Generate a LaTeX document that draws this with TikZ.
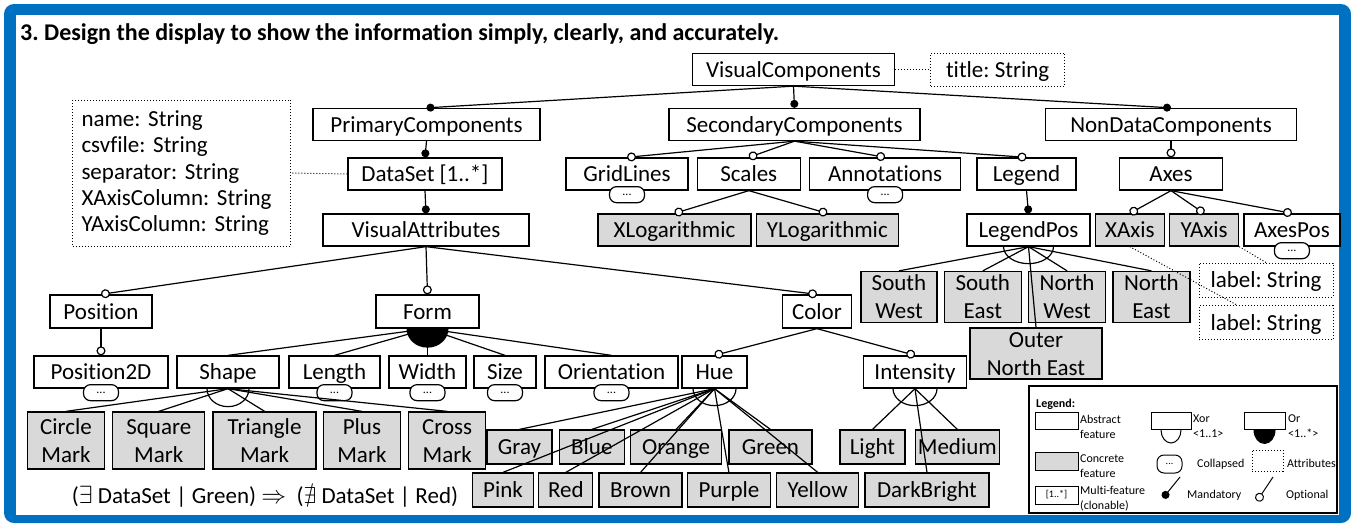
\documentclass[tikz,border=0pt]{standalone}
\usepackage{fontspec}
\setmainfont{Carlito}[Ligatures=NoCommon]
\usepackage{amssymb}
\usetikzlibrary{
  arrows.meta, % for the Circle tips of mandatory and optional features
  positioning, % for relative placement of sibling features
}
\definecolor{frameblue}{RGB}{0,112,192}
\definecolor{concretegray}{RGB}{217,217,217}
\tikzset{
  feature/.style={ % abstract feature
    rectangle,draw,line width=1.3pt,fill=white,
    inner sep=0pt,
    minimum height=32pt,
    text height=15pt,text depth=0pt, % same baseline in every box
  },
  concrete/.style={ % concrete feature
    feature,fill=concretegray,
  },
  twoline/.style={ % concrete feature with a two line name
    concrete,align=center,minimum height=56pt,
    text height=43pt,text depth=0pt,
  },
  attrs/.style={ % attribute box
    rectangle,draw,dotted,line width=1pt,fill=white,
    inner sep=0pt,minimum height=33pt,
    text height=15pt,text depth=0pt,
  },
  collapsed/.style={ % collapsed subtree marker
    rectangle,draw,line width=1.2pt,fill=white,rounded corners=7pt,
    minimum width=35pt,minimum height=16pt,inner sep=0pt,
    font=\fontsize{12}{12}\selectfont,
  },
  mand/.style={ % mandatory child
    -{Circle[length=8pt]},line width=1.2pt,
  },
  opt/.style={ % optional child
    -{Circle[length=9pt,fill=white]},line width=1.2pt,
  },
  grp/.style={line width=1.2pt}, % child of an or / xor group
  xorarc/.style={draw,line width=1.2pt},
  attrline/.style={dotted,line width=1pt},
  lbox/.style={ % small boxes of the legend
    rectangle,draw,line width=1pt,fill=white,
    inner sep=0pt,minimum width=43pt,minimum height=17pt,
  },
  ltext/.style={ % texts of the legend
    anchor=west,align=left,inner sep=0pt,
    font=\fontsize{12}{15}\selectfont,
  },
}

\begin{document}
\frenchspacing
\begin{tikzpicture}[x=1pt,y=-1pt,font=\fontsize{23}{28}\selectfont]

	\useasboundingbox (0,0) rectangle (1351,523);
	\fill[frameblue,rounded corners=10pt] (4,4) rectangle (1351,523);
	\fill[white] (16,15) rectangle (1339,515);

	\node[anchor=base west,inner sep=0pt,font=\fontsize{24}{28}\selectfont\bfseries] (heading) at (20,40)
		{3. Design the display to show the information simply, clearly, and accurately.};

	% top levels
	\node[feature,minimum width=202pt] (vc) at (793.5,69.5) {VisualComponents};
	\node[attrs,minimum width=134pt,right=35pt of vc] (vctitle) {title: String};

	\node[feature,minimum width=227pt] (pc) at (426.5,124.5) {PrimaryComponents};
	\node[feature,minimum width=251pt] (sc) at (794.5,124.5) {SecondaryComponents};
	\node[feature,minimum width=251pt] (ndc) at (1171,124.5) {NonDataComponents};

	\node[attrs,align=left,text width=200pt,inner xsep=9pt,minimum height=146pt,
		font=\fontsize{23}{26.3}\selectfont,text height=12pt,text depth=105pt] (dsattr) at (181.5,173)
		{name: String\\csvfile: String\\separator: String\\XAxisColumn: String\\YAxisColumn: String};

	\node[feature,minimum width=154pt] (ds) at (425,174) {DataSet [1..*]};
	\node[feature,minimum width=122pt] (grid) at (627,174) {GridLines};
	\node[feature,minimum width=103pt,right=8pt of grid] (scales) {Scales};
	\node[feature,minimum width=151pt,right=8pt of scales] (annot) {Annotations};
	\node[feature,minimum width=99pt] (legend) at (1026.5,174) {Legend};
	\node[feature,minimum width=103pt] (axes) at (1171,174) {Axes};

	\node[feature,minimum width=206pt] (va) at (426,230) {VisualAttributes};
	\node[concrete,minimum width=153pt] (xlog) at (674.5,230) {XLogarithmic};
	\node[concrete,minimum width=142pt,right=4pt of xlog] (ylog) {YLogarithmic};
	\node[feature,minimum width=123pt] (legpos) at (1028.5,230) {LegendPos};
	\node[concrete,minimum width=69pt,right=4pt of legpos] (xaxis) {XAxis};
	\node[concrete,minimum width=69pt,right=4pt of xaxis] (yaxis) {YAxis};
	\node[feature,minimum width=96pt,right=4pt of yaxis] (axespos) {AxesPos};

	% legend positions and axis labels
	\node[twoline,minimum width=76pt,minimum height=51pt] (sw) at (899,297) {South\\West};
	\node[twoline,minimum width=77pt,minimum height=51pt,right=6pt of sw] (se) {South\\East};
	\node[twoline,minimum width=77pt,minimum height=51pt,right=6pt of se] (nw) {North\\West};
	\node[twoline,minimum width=77pt,minimum height=51pt,right=6pt of nw] (ne) {North\\East};
	\node[twoline,minimum width=132pt,minimum height=51pt] (oneast) at (1036,353.5) {Outer\\North East};
	\node[attrs,minimum width=134pt,minimum height=34pt] (lab1) at (1266,280) {label: String};
	\node[attrs,minimum width=134pt,minimum height=34pt] (lab2) at (1266,322.5) {label: String};

	% visual attributes
	\node[feature,minimum width=102pt,minimum height=33pt] (pos) at (101,311.5) {Position};
	\node[feature,minimum width=103pt,minimum height=33pt] (form) at (427.5,311.5) {Form};
	\node[feature,minimum width=69pt,minimum height=33pt] (color) at (817,311.5) {Color};

	\node[feature,minimum width=134pt] (pos2d) at (101,372) {Position2D};
	\node[feature,minimum width=102pt] (shape) at (228,372) {Shape};
	\node[feature,minimum width=91pt] (length) at (334.5,372) {Length};
	\node[feature,minimum width=77pt] (width) at (427.5,372) {Width};
	\node[feature,minimum width=62pt] (size) at (505,372) {Size};
	\node[feature,minimum width=133pt] (orient) at (611.5,372) {Orientation};
	\node[feature,minimum width=65pt] (hue) at (714.5,372) {Hue};
	\node[feature,minimum width=103pt] (intens) at (915,372) {Intensity};

	\node[twoline,minimum width=77pt,minimum height=57pt] (circmark) at (66,440.5) {Circle\\Mark};
	\node[twoline,minimum width=92pt,minimum height=57pt,right=7pt of circmark] (sqmark) {Square\\Mark};
	\node[twoline,minimum width=103pt,minimum height=57pt,right=7pt of sqmark] (trimark) {Triangle\\Mark};
	\node[twoline,minimum width=77pt,minimum height=57pt,right=6pt of trimark] (plusmark) {Plus\\Mark};
	\node[twoline,minimum width=77pt,minimum height=57pt,right=7pt of plusmark] (crossmark) {Cross\\Mark};

	\node[concrete,minimum width=65pt,minimum height=34pt] (cgray) at (519.5,447) {Gray};
	\node[concrete,minimum width=65pt,minimum height=34pt,right=6pt of cgray] (cblue) {Blue};
	\node[concrete,minimum width=91pt,minimum height=34pt,right=5pt of cblue] (corange) {Orange};
	\node[concrete,minimum width=83pt,minimum height=34pt,right=6pt of corange] (cgreen) {Green};
	\node[concrete,minimum width=65pt,minimum height=34pt] (light) at (872.5,447) {Light};
	\node[concrete,minimum width=84pt,minimum height=34pt,right=9pt of light] (medium) {Medium};

	\node[concrete,minimum width=61pt,minimum height=34pt] (cpink) at (503,490) {Pink};
	\node[concrete,minimum width=54pt,minimum height=34pt,right=4pt of cpink] (cred) {Red};
	\node[concrete,minimum width=83pt,minimum height=34pt,right=5pt of cred] (cbrown) {Brown};
	\node[concrete,minimum width=83pt,minimum height=34pt,right=4pt of cbrown] (cpurple) {Purple};
	\node[concrete,minimum width=82pt,minimum height=34pt,right=5pt of cpurple] (cyellow) {Yellow};
	\node[concrete,minimum width=124pt,minimum height=34pt,right=5pt of cyellow] (dark) {DarkBright};

	\node[inner sep=0pt] (constraint) at (265,497)
		{($\exists$ DataSet | Green) $\Rightarrow$\ \ ($\nexists$ DataSet | Red)};

	% collapsed subtrees
	\node[collapsed] (gridmore) at ([yshift=-4pt]grid.south) {...};
	\node[collapsed] (annotmore) at ([yshift=-4pt]annot.south) {...};
	\node[collapsed] (axespmore) at ([yshift=-4pt]axespos.south) {...};
	\node[collapsed] (pos2dmore) at ([yshift=-4pt]pos2d.south) {...};
	\node[collapsed] (lengthmore) at ([yshift=-4pt]length.south) {...};
	\node[collapsed] (widthmore) at ([yshift=-4pt]width.south) {...};
	\node[collapsed] (sizemore) at ([yshift=-4pt]size.south) {...};
	\node[collapsed] (orientmore) at ([yshift=-4pt]orient.south) {...};

	% attributes
	\draw[attrline] (vc.east) -- (vctitle.west);
	\draw[attrline] (ds.west) -- (dsattr.east);
	\draw[attrline] (xaxis.south) -- (lab2.149);
	\draw[attrline] (yaxis.south east) -- (lab1.north);

	% feature tree
	\draw[mand] (vc.south) -- (pc.north);
	\draw[mand] (vc.south) -- (sc.north);
	\draw[mand] (vc.south) -- (ndc.north);
	\draw[mand] (pc.south) -- (ds.north);
	\draw[mand] (ds.south) -- (va.north);

	\draw[opt] (sc.south) -- (grid.north);
	\draw[opt] (sc.south) -- (scales.north);
	\draw[opt] (sc.south) -- (annot.north);
	\draw[opt] (sc.south) -- (legend.north);
	\draw[opt] (ndc.south) -- (axes.north);

	\draw[opt] (scales.south) -- (xlog.north);
	\draw[opt] (scales.south) -- (ylog.north);
	\draw[mand] (legend.south) -- (legpos.north);
	\draw[opt] (axes.south) -- (xaxis.north);
	\draw[opt] (axes.south) -- (yaxis.north);
	\draw[opt] (axes.south) -- (axespos.north);

	\draw[grp] (legpos.south) -- (sw.north);
	\draw[grp] (legpos.south) -- (se.north);
	\draw[grp] (legpos.south) -- (nw.north);
	\draw[grp] (legpos.south) -- (ne.north);
	\draw[grp] (legpos.south) -- (oneast.north);
	\draw[xorarc] (legpos.south) ++(-25pt,0) arc[start angle=180,end angle=360,x radius=25pt,y radius=17pt];

	\draw[opt] (va.south) -- (pos.north);
	\draw[opt] (va.south) -- (form.north);
	\draw[opt] (va.south) -- (color.north);
	\draw[opt] (pos.south) -- (pos2d.north);
	\draw[opt] (color.south) -- (hue.north);
	\draw[opt] (color.south) -- (intens.north);

	\draw[grp] (form.south) -- (shape.north);
	\draw[grp] (form.south) -- (length.north);
	\draw[grp] (form.south) -- (width.north);
	\draw[grp] (form.south) -- (size.north);
	\draw[grp] (form.south) -- (orient.north);
	\fill (form.south) ++(-21pt,0) arc[start angle=180,end angle=360,x radius=21pt,y radius=19pt] -- cycle;

	\draw[grp] (shape.south) -- (circmark.north);
	\draw[grp] (shape.south) -- (sqmark.north);
	\draw[grp] (shape.south) -- (trimark.north);
	\draw[grp] (shape.south) -- (plusmark.north);
	\draw[grp] (shape.south) -- (crossmark.north);
	\draw[xorarc] (shape.south) ++(-21pt,0) arc[start angle=180,end angle=360,x radius=21pt,y radius=18pt];

	\draw[grp] (hue.south) -- (cgray.north);
	\draw[grp] (hue.south) -- (cblue.north);
	\draw[grp] (hue.south) -- (corange.north);
	\draw[grp] (hue.south) -- (cgreen.north);
	\draw[grp] (hue.south) -- (cpink.north);
	\draw[grp] (hue.south) -- (cred.north);
	\draw[grp] (hue.south) -- (cbrown.north);
	\draw[grp] (hue.south) -- (cpurple.north);
	\draw[grp] (hue.south) -- (cyellow.north);
	\draw[xorarc] (hue.south) ++(-21.5pt,0) arc[start angle=180,end angle=360,x radius=21.5pt,y radius=17pt];

	\draw[grp] (intens.south) -- (light.north);
	\draw[grp] (intens.south) -- (medium.north);
	\draw[grp] (intens.south) -- (dark.north);
	\draw[xorarc] (intens.south) ++(-22pt,0) arc[start angle=180,end angle=360,x radius=22pt,y radius=17pt];

	% legend
	\node[draw,line width=1.2pt,fill=white,inner sep=0pt,minimum width=308pt,minimum height=127pt] (legendbox) at (1183,449.5) {};
	\node[ltext,font=\fontsize{12}{15}\selectfont\bfseries] (legtitle) at (1036,404) {Legend:};

	\node[lbox] (labs) at (1056.5,421) {};
	\node[ltext] (labstext) at (1080,426.5) {Abstract\\feature};
	\node[lbox,minimum width=40pt] (lxor) at (1171,421) {};
	\draw[line width=1pt] (lxor.south) ++(-10pt,0) arc[start angle=180,end angle=360,x radius=10pt,y radius=13pt];
	\node[ltext] (lxortext) at (1193,426.5) {Xor\\<1..1>};
	\node[lbox,minimum width=41pt] (lor) at (1264.5,421) {};
	\fill (lor.south) ++(-11pt,0) arc[start angle=180,end angle=360,x radius=11pt,y radius=14pt] -- cycle;
	\node[ltext] (lortext) at (1288,426.5) {Or\\<1..*>};

	\node[lbox,fill=concretegray,minimum height=18pt] (lconc) at (1056.5,461) {};
	\node[ltext] (lconctext) at (1080,466) {Concrete\\feature};
	\node[collapsed,line width=1pt,minimum width=25pt,minimum height=18pt,font=\fontsize{10}{10}\selectfont] (lcoll) at (1169.5,464) {...};
	\node[ltext] (lcolltext) at (1197,464) {Collapsed};
	\node[lbox,dotted,minimum width=31pt,minimum height=21pt] (lattr) at (1267.5,460.5) {};
	\node[ltext] (lattrtext) at (1287,463) {Attributes};

	\node[lbox,minimum height=18pt,font=\fontsize{10}{10}\selectfont] (lmulti) at (1056.5,495) {[1..*]};
	\node[ltext] (lmultitext) at (1080,499) {Multi-feature\\(clonable)};
	\coordinate (lmandtop) at (1180,477);
	\coordinate (lmandend) at (1163,498);
	\draw[mand,line width=1pt] (lmandtop) -- (lmandend);
	\node[ltext] (lmandtext) at (1187,495) {Mandatory};
	\coordinate (lopttop) at (1273,477);
	\coordinate (loptend) at (1257,501);
	\draw[opt,line width=1pt] (lopttop) -- (loptend);
	\node[ltext] (lopttext) at (1286,495) {Optional};

\end{tikzpicture}
\end{document}
